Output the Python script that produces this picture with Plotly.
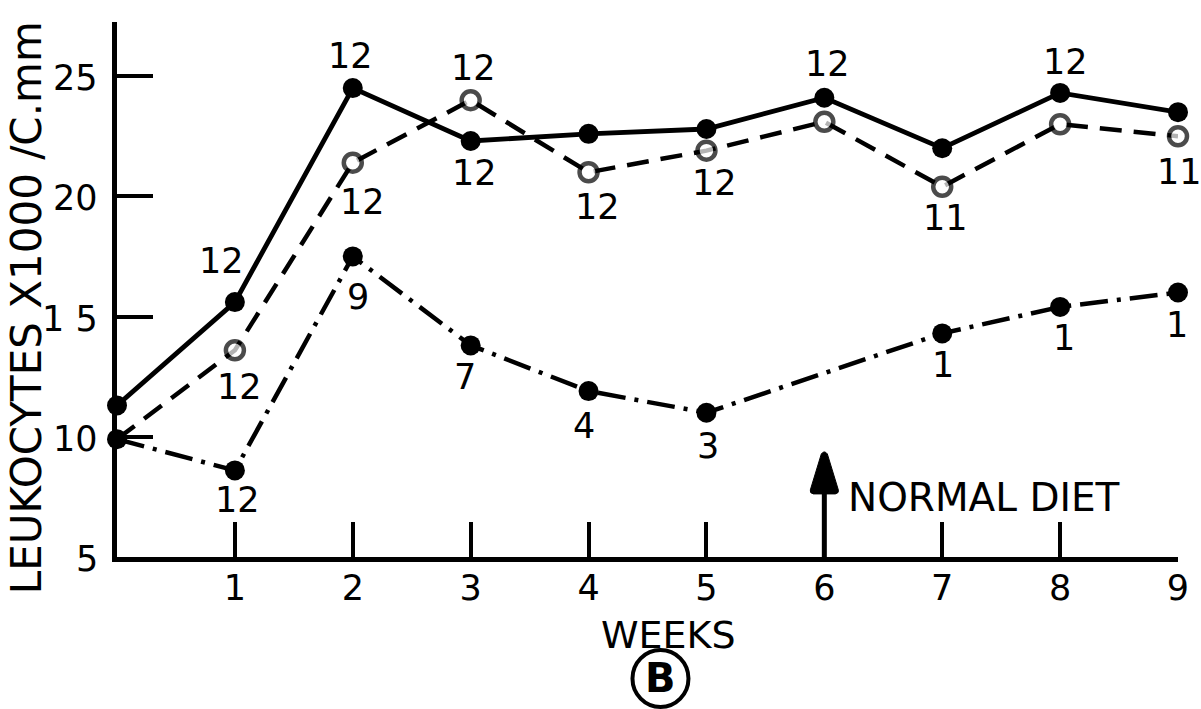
import plotly.graph_objects as go

# Weekly leukocyte counts (x1000 per c.mm) for three groups
weeks = [0, 1, 2, 3, 4, 5, 6, 7, 8, 9]
group_a = [11.3, 15.6, 24.5, 22.3, 22.6, 22.8, 24.1, 22.0, 24.3, 23.5]   # solid, filled dots
group_b = [9.9, 13.6, 21.4, 24.0, 21.0, 21.9, 23.1, 20.4, 23.0, 22.5]    # dashed, open circles
weeks_c = [0, 1, 2, 3, 4, 5, 7, 8, 9]
group_c = [9.9, 8.6, 17.5, 13.8, 11.9, 11.0, 14.3, 15.4, 16.0]          # dash-dot, filled dots

# Number of animals at each point (None = not labelled)
n_a = [None, "12", "12", "12", None, None, "12", None, "12", None]
n_b = [None, "12", "12", "12", "12", "12", None, "11", None, "11"]
n_c = [None, "12", "9", "7", "4", "3", "1", "1", "1"]

x_ticks = [1, 2, 3, 4, 5, 6, 7, 8, 9]
y_ticks = [5, 10, 15, 20, 25]
y_tick_text = ["5", "10", "1 5", "20", "25"]

FONT = "DejaVu Sans"
INK = "black"

fig = go.Figure()

fig.add_trace(go.Scatter(
    x=weeks, y=group_b, mode="lines+markers",
    line=dict(color=INK, width=4.5, dash="22px,12px"),
    marker=dict(symbol="circle", size=[0] + [18] * 9, color="white",
                line=dict(width=4.5, color=INK)),
    cliponaxis=False, showlegend=False,
))
fig.add_trace(go.Scatter(
    x=weeks_c, y=group_c, mode="lines+markers",
    line=dict(color=INK, width=4.5, dash="28px,9px,4px,9px"),
    marker=dict(symbol="circle", size=20, color=INK),
    cliponaxis=False, showlegend=False,
))
fig.add_trace(go.Scatter(
    x=weeks, y=group_a, mode="lines+markers",
    line=dict(color=INK, width=4.8),
    marker=dict(symbol="circle", size=20, color=INK),
    cliponaxis=False, showlegend=False,
))

# Count labels: offsets (pixels, right / down) from each point
offsets_a = {1: (-13, -41), 2: (-2, -32), 3: (4, 32), 6: (3, -34), 8: (5, -31)}
offsets_b = {1: (5, 37), 2: (10, 39), 3: (3, -32), 4: (9, 35), 5: (8, 32), 7: (3, 31), 9: (1, 36)}
offsets_c = {1: (3, 30), 2: (5, 41), 3: (-6, 32), 4: (-5, 35), 5: (2, 33), 7: (1, 32), 8: (4, 31), 9: (-1, 32)}

annotations = []


def add_counts(xs, ys, labels, offsets):
    for xv, yv, lab in zip(xs, ys, labels):
        if lab is None:
            continue
        dx, dy = offsets[xv]
        annotations.append(dict(
            x=xv, y=yv, xref="x", yref="y", text=lab, showarrow=False,
            xanchor="center", yanchor="middle",
            xshift=dx, yshift=-dy, font=dict(family=FONT, size=35, color=INK),
        ))


add_counts(weeks, group_a, n_a, offsets_a)
add_counts(weeks, group_b, n_b, offsets_b)
add_counts(weeks_c, group_c, n_c, offsets_c)

# Y tick labels, set a little away from the axis
for yv, txt in zip(y_ticks, y_tick_text):
    annotations.append(dict(
        x=0, y=yv, xref="x", yref="y", text=txt, showarrow=False,
        xanchor="right", yanchor="middle", xshift=-17, yshift=-2,
        font=dict(family=FONT, size=35, color=INK),
    ))

# Axis titles and panel letter
annotations.append(dict(
    x=0, y=0.465, xref="paper", yref="paper", xshift=-91, text="LEUKOCYTES X1000 /C.mm",
    xanchor="center", yanchor="middle",
    textangle=-90, showarrow=False, font=dict(family=FONT, size=42, color=INK),
))
annotations.append(dict(
    x=4.68, y=0, xref="x", yref="paper", yshift=-78, text="WEEKS",
    xanchor="center", yanchor="middle",
    showarrow=False, font=dict(family=FONT, size=38, color=INK),
))
annotations.append(dict(
    x=4.61, y=0, xref="x", yref="paper", yshift=-121, text="<b>B</b>",
    xanchor="center", yanchor="middle",
    showarrow=False, font=dict(family=FONT, size=40, color=INK),
))
annotations.append(dict(
    x=6, y=0, xref="x", yref="paper", xshift=22, yshift=60, text="NORMAL DIET",
    xanchor="left", yanchor="middle", showarrow=False,
    font=dict(family=FONT, size=39, color=INK),
))

shapes = [
    # circle around the panel letter
    dict(type="circle", xref="x", yref="paper", xsizemode="pixel", ysizemode="pixel",
         xanchor=4.61, yanchor=0, x0=-28, x1=28, y0=-150, y1=-93,
         line=dict(color=INK, width=4)),
    # arrow marking the return to normal diet
    dict(type="line", xref="x", yref="y", x0=6, x1=6, y0=5, y1=7.8,
         line=dict(color=INK, width=5)),
    dict(type="path", xref="x", yref="y", xsizemode="pixel", ysizemode="pixel",
         xanchor=6, yanchor=7.79,
         path="M -14,0 Q -15,-3 -11,-4 L 11,-4 Q 15,-3 14,0 L 3,36 Q 0,40 -3,36 Z",
         fillcolor=INK, line=dict(color=INK, width=1)),
]

fig.update_layout(
    width=1201, height=709,
    margin=dict(l=117, r=14, t=22, b=152),
    paper_bgcolor="white", plot_bgcolor="white",
    annotations=annotations, shapes=shapes,
    xaxis=dict(
        range=[0, 9], tickvals=x_ticks, ticktext=[str(v) for v in x_ticks],
        ticks="inside", ticklen=35, tickwidth=4, tickcolor=INK,
        showline=True, linewidth=5, linecolor=INK, showgrid=False, zeroline=False,
        tickfont=dict(family=FONT, size=35, color=INK), ticklabelstandoff=-4,
    ),
    yaxis=dict(
        range=[5, 27.25], tickvals=y_ticks, showticklabels=False,
        ticks="inside", ticklen=36, tickwidth=4, tickcolor=INK,
        showline=True, linewidth=5, linecolor=INK, showgrid=False, zeroline=False,
    ),
)

fig.write_html("out.html")
